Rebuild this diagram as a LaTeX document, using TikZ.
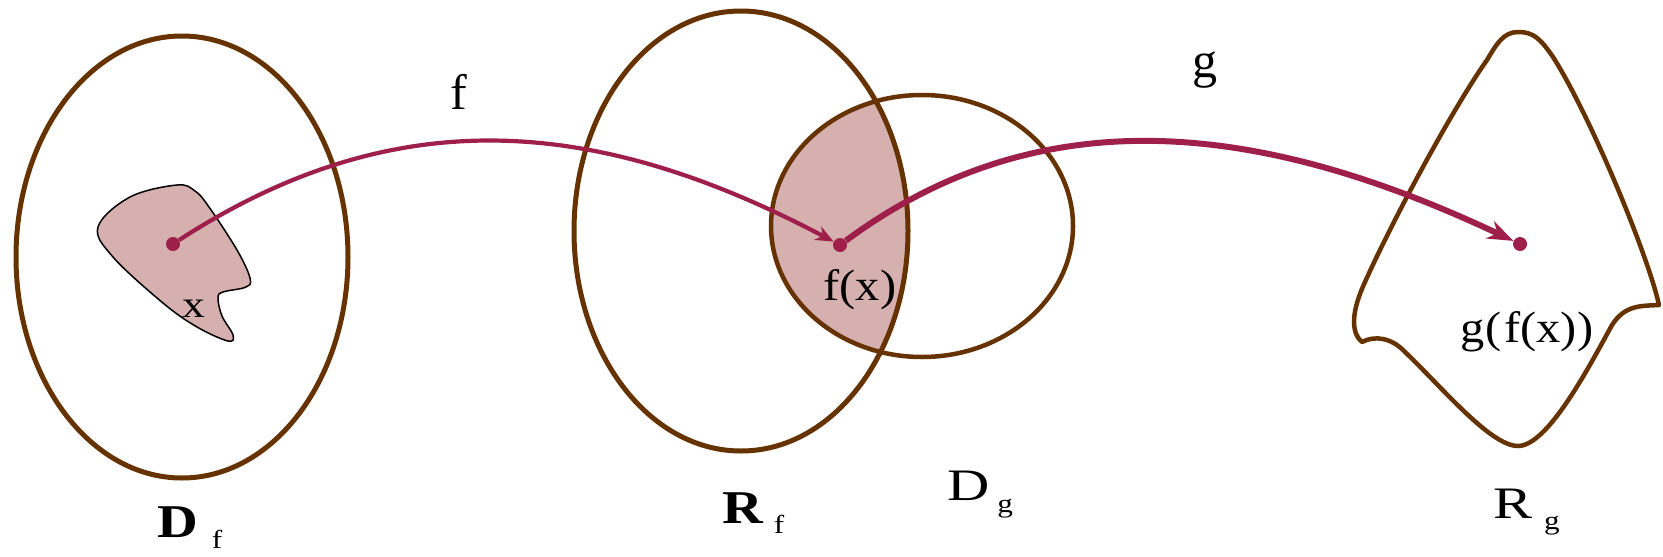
\documentclass[tikz,border=0pt]{standalone}
\usepackage{fontspec}
\setmainfont{Liberation Serif}
\usepackage{graphicx}
\usetikzlibrary{arrows.meta}
\definecolor{setbrown}{RGB}{102,51,0}
\definecolor{mapred}{RGB}{158,31,73}
\definecolor{setpink}{RGB}{214,175,175}
\newcommand{\hstretch}[2]{\scalebox{#1}[1]{#2}}
\begin{document}
\begin{tikzpicture}[x=1pt,y=-1pt,
  setline/.style={draw=setbrown,line width=5pt},
  mapline/.style={draw=mapred,line width=4.2pt,-{Stealth[length=18pt,width=15pt]}},
  dotnode/.style={circle,fill=mapred,inner sep=0pt,minimum size=14pt},
  lbl/.style={inner sep=0pt,font=\fontsize{44}{48}\selectfont},
  setlbl/.style={inner sep=0pt,anchor=base west,font=\fontsize{45}{48}\selectfont}
]
\useasboundingbox (0,0) rectangle (1663,557);
% overlap of R_f and D_g
\begin{scope}
  \clip (741,231) ellipse [x radius=167, y radius=220];
  \fill[setpink] (922,226) ellipse [x radius=151, y radius=131];
\end{scope}
% blob containing x
\draw[fill=setpink, draw=black, line width=1.5pt] plot[smooth cycle, tension=0.6] coordinates
  {(177,185) (195,191) (209,207) (237,250) (250,278) (246,287) (223,292) (218,298) (222,316) (233,335) (228,341) (197,327) (163,303) (113,257) (98,227) (130,197)};
% sets
\draw[setline] (182,257) ellipse [x radius=166, y radius=221];
\draw[setline] (741,231) ellipse [x radius=167, y radius=220];
\draw[setline, line width=4.5pt] (922,226) ellipse [x radius=151, y radius=131];
\draw[setline, line width=4.5pt, line join=round]
  (1487,60) .. controls (1455,105) and (1395,215) .. (1365,282)
  .. controls (1352,310) and (1350,332) .. (1362,342)
  .. controls (1375,335) and (1392,338) .. (1405,352)
  .. controls (1440,385) and (1490,446) .. (1518,446)
  .. controls (1548,446) and (1590,365) .. (1612,325)
  .. controls (1625,305) and (1640,306) .. (1659,305)
  .. controls (1648,255) and (1590,115) .. (1553,57)
  .. controls (1540,38) and (1533,32) .. (1518,32)
  .. controls (1503,32) and (1496,45) .. (1487,60) -- cycle;
% points
\node[dotnode] (px) at (173,244) {};
\node[dotnode] (pfx) at (840,245) {};
\node[dotnode] (pgfx) at (1520,244) {};
% maps
\draw[mapline] (px) .. controls (395,100) and (596,116) .. (pfx);
\draw[mapline, line width=6pt, -{Stealth[length=26pt,width=19pt]}] (pfx) .. controls (1047,92) and (1270,126) .. (pgfx);
% labels
\node[lbl, font=\fontsize{50}{54}\selectfont, anchor=base] (flbl) at (459,109) {f};
\node[lbl, font=\fontsize{50}{54}\selectfont, anchor=base] (glbl) at (1205,77) {g};
\node[lbl, font=\fontsize{38}{40}\selectfont, anchor=base] (xlbl) at (194,317) {\hstretch{1.2}{x}};
\node[lbl, anchor=base] (fxlbl) at (860,300) {\hstretch{1.1}{f(x)}};
\node[lbl, anchor=base] (gfxlbl) at (1527,342) {\hstretch{1.1}{g(\kern3pt f(x))}};
\node[setlbl, font=\fontsize{47}{50}\selectfont\bfseries] (Df) at (157,537)
  {\hstretch{1.2}{D}\kern14pt\raisebox{-11pt}{\fontsize{26}{28}\mdseries\selectfont\hstretch{1.2}{f}}};
\node[setlbl, font=\fontsize{47}{50}\selectfont\bfseries] (Rf) at (722,523)
  {\hstretch{1.2}{R}\kern11pt\raisebox{-10pt}{\fontsize{26}{28}\mdseries\selectfont\hstretch{1.2}{f}}};
\node[setlbl] (Dg) at (947,500)
  {\hstretch{1.3}{D}\kern8pt\raisebox{-12pt}{\fontsize{26}{28}\selectfont\hstretch{1.2}{g}}};
\node[setlbl] (Rg) at (1493,518)
  {\hstretch{1.3}{R}\kern12pt\raisebox{-11pt}{\fontsize{26}{28}\selectfont\hstretch{1.2}{g}}};
\end{tikzpicture}
\end{document}
